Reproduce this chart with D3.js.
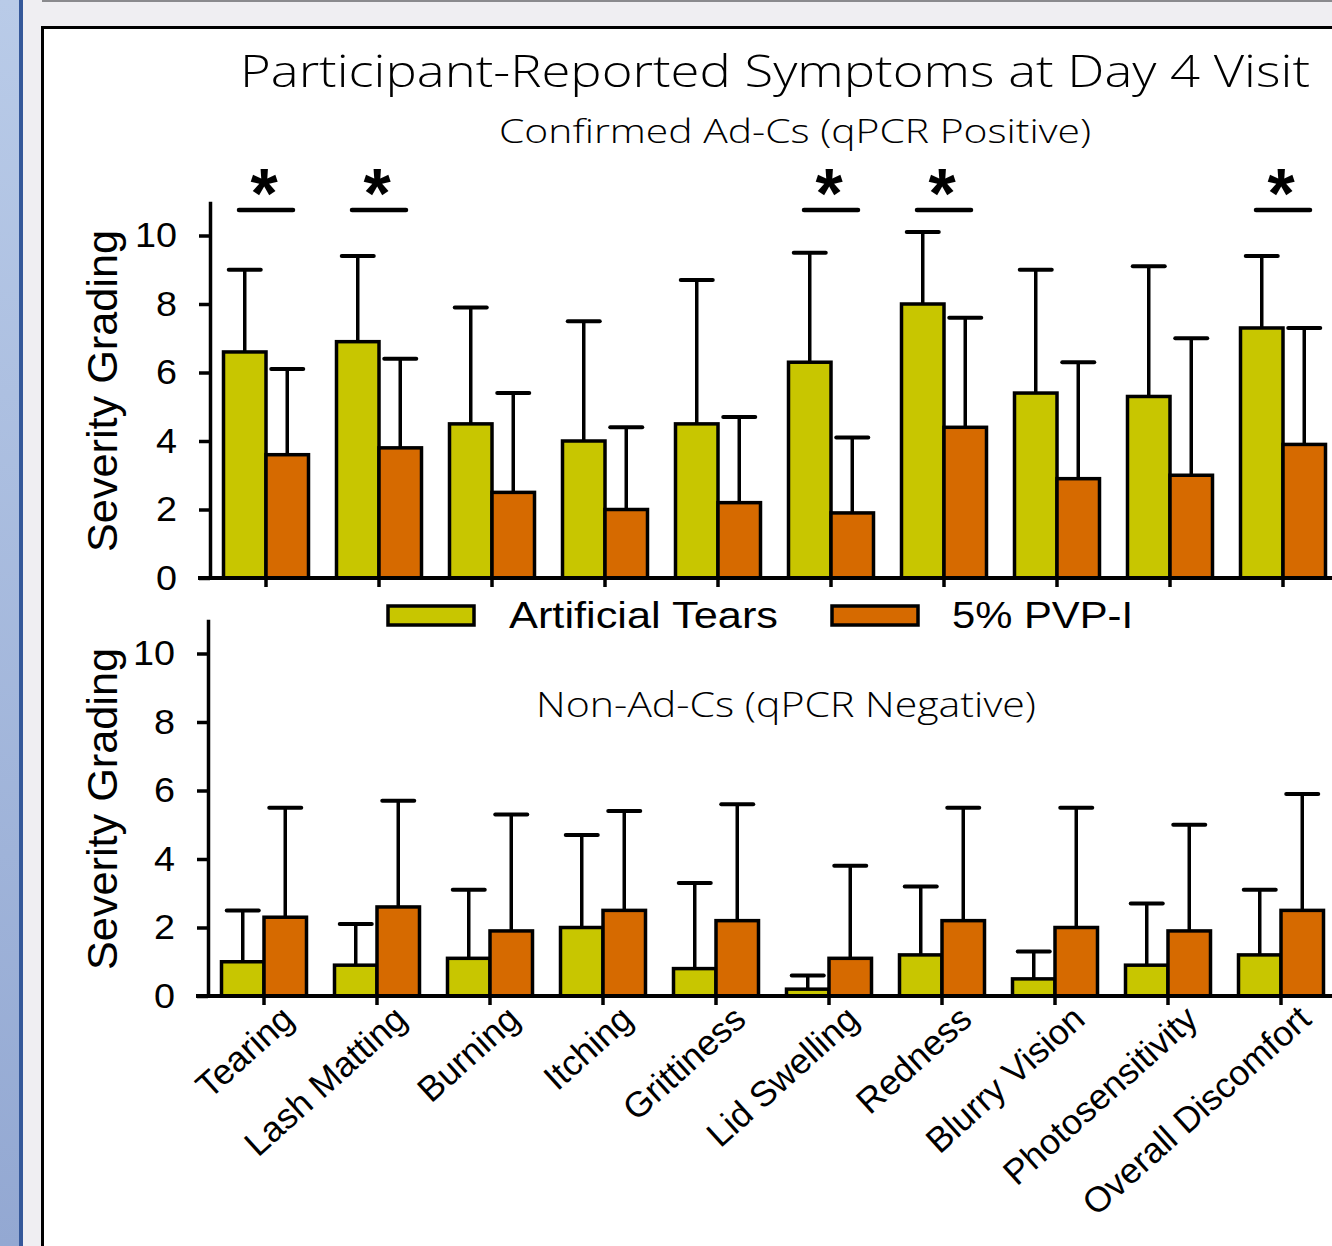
<!DOCTYPE html>
<html>
<head>
<meta charset="utf-8">
<script src="https://cdn.jsdelivr.net/npm/d3@7"></script>
<style>
  body { margin: 0; background: #efeef2; overflow: hidden; }
  text { font-family: "Liberation Sans", Arial, sans-serif; fill: #000; }
  .ttl { font-family: "Open Sans", "Noto Sans", sans-serif; font-weight: 300; }
</style>
</head>
<body>
<div id="chart"></div>
<script>
// symptom data

var symptoms = ['Tearing', 'Lash Matting', 'Burning', 'Itching', 'Grittiness',
                'Lid Swelling', 'Redness', 'Blurry Vision', 'Photosensitivity', 'Overall Discomfort'];
var groups = ['Artificial Tears', '5% PVP-I'];
var yTicks = [0, 2, 4, 6, 8, 10];

// confirmed Ad-Cs (qPCR positive)
var posTears    = [6.6, 6.9, 4.5, 4.0, 4.5, 6.3, 8.0, 5.4, 5.3, 7.3];
var posTearsErr = [9.0, 9.4, 7.9, 7.5, 8.7, 9.5, 10.1, 9.0, 9.1, 9.4];
var posPvp      = [3.6, 3.8, 2.5, 2.0, 2.2, 1.9, 4.4, 2.9, 3.0, 3.9];
var posPvpErr   = [6.1, 6.4, 5.4, 4.4, 4.7, 4.1, 7.6, 6.3, 7.0, 7.3];
var posSignif   = ['Tearing', 'Lash Matting', 'Lid Swelling', 'Redness', 'Overall Discomfort'];

// non-Ad-Cs (qPCR negative)
var negTears    = [1.0, 0.9, 1.1, 2.0, 0.8, 0.2, 1.2, 0.5, 0.9, 1.2];
var negTearsErr = [2.5, 2.1, 3.1, 4.7, 3.3, 0.6, 3.2, 1.3, 2.7, 3.1];
var negPvp      = [2.3, 2.6, 1.9, 2.5, 2.2, 1.1, 2.2, 2.0, 1.9, 2.5];
var negPvpErr   = [5.5, 5.7, 5.3, 5.4, 5.6, 3.8, 5.5, 5.5, 5.0, 5.9];

var colors = ['#c8c600', '#d66a00'];

var svg = d3.select('#chart').append('svg')
    .attr('width', 1332)
    .attr('height', 1246);

// window frame bits
var grad = svg.append('defs').append('linearGradient')
    .attr('id', 'side').attr('x1', 0).attr('y1', 0).attr('x2', 0).attr('y2', 1);
grad.append('stop').attr('offset', 0).attr('stop-color', '#b9cbe8');
grad.append('stop').attr('offset', 1).attr('stop-color', '#93a8d2');

svg.append('rect').attr('x', 0).attr('y', 0).attr('width', 19).attr('height', 1246).attr('fill', 'url(#side)');
svg.append('rect').attr('x', 19).attr('y', 0).attr('width', 4).attr('height', 1246).attr('fill', '#35589a');
svg.append('rect').attr('x', 42).attr('y', 0).attr('width', 1290).attr('height', 2).attr('fill', '#8a8a8e');
svg.append('rect').attr('x', 42.5).attr('y', 27.5).attr('width', 1310).attr('height', 1240)
    .attr('fill', '#fff').attr('stroke', '#000').attr('stroke-width', 3);

// titles
svg.append('text').attr('class', 'ttl')
    .attr('x', 240).attr('y', 87)
    .attr('font-size', 45)
    .attr('textLength', 1070).attr('lengthAdjust', 'spacingAndGlyphs')
    .text('Participant-Reported Symptoms at Day 4 Visit');

var panel = function(opt){

    var xBand = d3.scaleBand()
	.domain(symptoms)
	.range([opt.axisX - 0.5, opt.axisX + 1129.5]);

    var xSub = d3.scaleBand()
	.domain(groups)
	.range([-42.5, 42.5]);

    var y = d3.scaleLinear()
	.domain([0, 11])
	.range([opt.base, opt.base - 11 * 34.25]);

    var g = svg.append('g');

    // subtitle
    g.append('text').attr('class', 'ttl')
	.attr('x', opt.subX).attr('y', opt.subY)
	.attr('font-size', opt.subSize)
	.attr('textLength', opt.subLen).attr('lengthAdjust', 'spacingAndGlyphs')
	.text(opt.subtitle);

    var rows = symptoms.map(function(s, i){
	return [
	    {cat: s, grp: groups[0], v: opt.tears[i], err: opt.tearsErr[i]},
	    {cat: s, grp: groups[1], v: opt.pvp[i], err: opt.pvpErr[i]}
	];
    });
    var flat = d3.merge(rows);

    // error bars first so bars sit over them
    var eb = g.selectAll('.eb').data(flat).enter().append('g')
	.attr('transform', function(d){
	    return 'translate(' + (xBand(d.cat) + xBand.bandwidth() / 2 + xSub(d.grp) + xSub.bandwidth() / 2) + ',0)';
	});
    eb.append('line')
	.attr('x1', 0).attr('x2', 0)
	.attr('y1', function(d){ return y(d.v); })
	.attr('y2', function(d){ return y(d.err); })
	.attr('stroke', '#000').attr('stroke-width', 3.5);
    eb.append('line')
	.attr('x1', -16).attr('x2', 16)
	.attr('y1', function(d){ return y(d.err); })
	.attr('y2', function(d){ return y(d.err); })
	.attr('stroke', '#000').attr('stroke-width', 4).attr('stroke-linecap', 'round');

    g.selectAll('.bar').data(flat).enter().append('rect')
	.attr('x', function(d){ return xBand(d.cat) + xBand.bandwidth() / 2 + xSub(d.grp); })
	.attr('width', xSub.bandwidth())
	.attr('y', function(d){ return y(d.v); })
	.attr('height', function(d){ return y(0) - y(d.v); })
	.attr('fill', function(d){ return colors[groups.indexOf(d.grp)]; })
	.attr('stroke', '#000').attr('stroke-width', 3.5);

    // y axis
    var yAxis = d3.axisLeft(y)
	.tickValues(yTicks)
	.tickSize(11)
	.tickSizeOuter(0)
	.tickPadding(22);

    var ya = g.append('g')
	.attr('transform', 'translate(' + opt.axisX + ',0)')
	.call(yAxis);
    ya.select('.domain').attr('stroke', '#000').attr('stroke-width', 3.5);
    ya.selectAll('.tick line').attr('stroke', '#000').attr('stroke-width', 3.5);
    ya.selectAll('.tick text')
	.attr('font-size', 35)
	.attr('font-family', '"Liberation Sans", Arial, sans-serif')
	.attr('fill', '#000')
	.attr('textLength', function(d){ return d >= 10 ? 42 : 21; })
	.attr('lengthAdjust', 'spacingAndGlyphs');

    // x axis
    var xAxis = d3.axisBottom(xBand)
	.tickSize(9)
	.tickSizeOuter(0)
	.tickFormat(opt.labels ? null : '');
    var xa = g.append('g')
	.attr('transform', 'translate(0,' + opt.base + ')')
	.call(xAxis);
    xa.select('.domain').remove();
    xa.selectAll('.tick line').attr('stroke', '#000').attr('stroke-width', 3.5);
    g.append('line')
	.attr('x1', opt.axisX - 12).attr('x2', 1340)
	.attr('y1', opt.base).attr('y2', opt.base)
	.attr('stroke', '#000').attr('stroke-width', 4);

    if(opt.labels){
	xa.selectAll('.tick text')
	    .attr('font-size', 35.5)
	    .attr('font-family', '"Liberation Sans", Arial, sans-serif')
	    .attr('fill', '#000')
	    .attr('text-anchor', 'end')
	    .attr('dy', 0)
	    .attr('y', 0)
	    .attr('transform', 'translate(32,26) rotate(-42)');
    }

    // y title
    g.append('text')
	.attr('transform', 'translate(' + opt.yLabX + ',' + opt.yLabY + ') rotate(-90)')
	.attr('text-anchor', 'middle')
	.attr('font-size', 43)
	.attr('textLength', 322).attr('lengthAdjust', 'spacingAndGlyphs')
	.text('Severity Grading');

    // significance marks
    if(opt.signif){
	var sg = g.selectAll('.sig').data(opt.signif).enter().append('g')
	    .attr('transform', function(d){ return 'translate(' + (xBand(d) + xBand.bandwidth() / 2) + ',0)'; });
	sg.append('line')
	    .attr('x1', -27).attr('x2', 27)
	    .attr('y1', 210).attr('y2', 210)
	    .attr('stroke', '#000').attr('stroke-width', 4.5).attr('stroke-linecap', 'round');
	sg.append('text')
	    .attr('x', -2).attr('y', 218)
	    .attr('text-anchor', 'middle')
	    .attr('font-size', 70).attr('font-weight', 'bold')
	    .text('*');
    }
};

panel({
    subtitle: 'Confirmed Ad-Cs (qPCR Positive)', subX: 499, subY: 143, subSize: 33, subLen: 592,
    tears: posTears, tearsErr: posTearsErr, pvp: posPvp, pvpErr: posPvpErr,
    base: 578, axisX: 210, yLabX: 117, yLabY: 391, signif: posSignif, labels: false
});

panel({
    subtitle: 'Non-Ad-Cs (qPCR Negative)', subX: 536, subY: 717, subSize: 35, subLen: 500,
    tears: negTears, tearsErr: negTearsErr, pvp: negPvp, pvpErr: negPvpErr,
    base: 996, axisX: 208, yLabX: 117, yLabY: 809, signif: null, labels: true
});

// legend
var legX = [388, 832];
var legTextX = [509, 952];
var legLen = [269, 181];
var leg = svg.selectAll('.leg').data(groups).enter().append('g');
leg.append('rect')
    .attr('x', function(d, i){ return legX[i]; })
    .attr('y', 606).attr('width', 86).attr('height', 19)
    .attr('fill', function(d, i){ return colors[i]; })
    .attr('stroke', '#000').attr('stroke-width', 3.5);
leg.append('text')
    .attr('x', function(d, i){ return legTextX[i]; })
    .attr('y', 628)
    .attr('font-size', 36)
    .attr('textLength', function(d, i){ return legLen[i]; })
    .attr('lengthAdjust', 'spacingAndGlyphs')
    .text(function(d){ return d; });
</script>
</body>
</html>
